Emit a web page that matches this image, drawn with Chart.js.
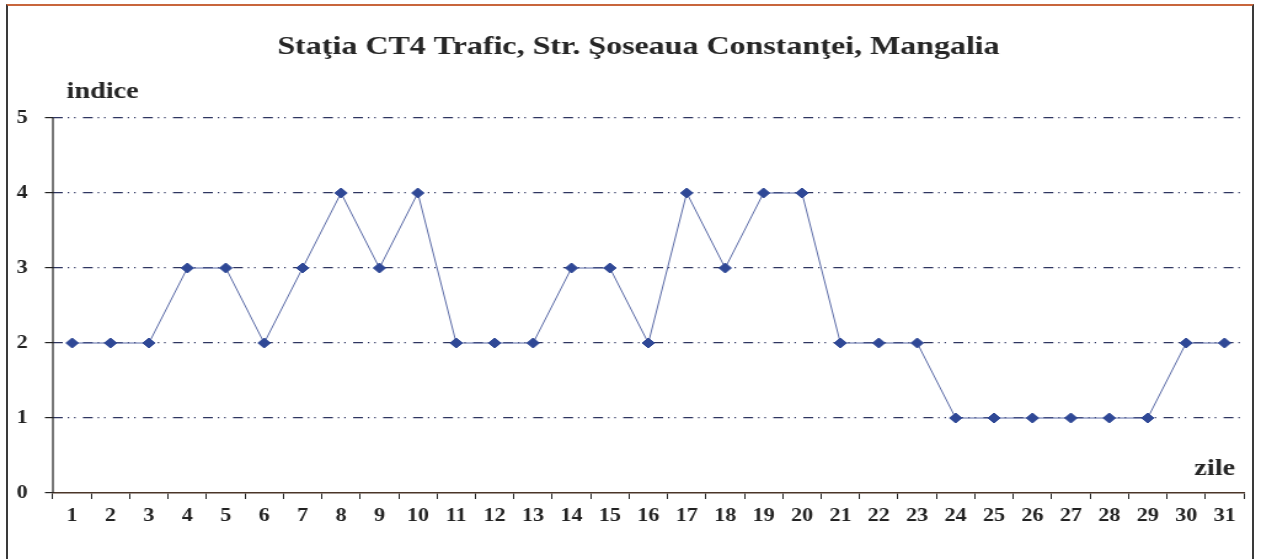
<!DOCTYPE html>
<html>
<head>
<meta charset="utf-8">
<script src="https://cdn.jsdelivr.net/npm/chart.js@4"></script>
<style>
  body { margin: 0; background: #fff; overflow: hidden; }
  #frame { position: absolute; left: 6px; top: 4px; width: 1244px; height: 600px;
           border: 2px solid #3a3a3a; border-top-color: #c8663c; }
  /* the scan is stretched sideways, so draw narrow and scale up */
  #wrap { position: absolute; left: 0; top: 0; width: 1025px; height: 559px;
          transform: scaleX(1.2302); transform-origin: 0 0; }
</style>
</head>
<body>
<div id="frame"></div>
<div id="wrap"><canvas id="ct4-chart" width="1025" height="559"></canvas></div>
<script>
// data
const zile = ['1','2','3','4','5','6','7','8','9','10','11','12','13','14','15','16',
  '17','18','19','20','21','22','23','24','25','26','27','28','29','30','31'];
const indice = [2, 2, 2, 3, 3, 2, 3, 4, 3, 4, 2, 2, 2, 3, 3, 2,
  4, 3, 4, 4, 2, 2, 2, 1, 1, 1, 1, 1, 1, 2, 2];
const titlu = 'Staţia CT4 Trafic, Str. Şoseaua Constanţei, Mangalia';
const yLabel = 'indice';
const xLabel = 'zile';

const serif = '"Liberation Serif", "DejaVu Serif", serif';

const textPlugin = {
  id: 'texts',
  afterDraw(chart) {
    const c = chart.ctx;
    const a = chart.chartArea;
    c.save();
    // solid y axis line (the grid dash would otherwise reach it)
    c.strokeStyle = '#1e1e1e';
    c.lineWidth = 1.2;
    c.beginPath();
    c.moveTo(a.left, a.top);
    c.lineTo(a.left, a.bottom);
    c.stroke();
    c.fillStyle = '#262626';
    c.textBaseline = 'alphabetic';
    c.font = 'bold 26px ' + serif;
    c.textAlign = 'center';
    c.fillText(titlu, 519, 54);
    c.font = 'bold 23px ' + serif;
    c.textAlign = 'left';
    c.fillText(yLabel, 54, 98);
    c.textAlign = 'right';
    c.fillText(xLabel, 1004, 475);
    c.restore();
  }
};

var ctx = document.getElementById('ct4-chart').getContext('2d');
const config = {
  type: 'line',
  data: {
    labels: zile,
    datasets: [{
      data: indice,
      borderColor: '#5a6aa6',
      borderWidth: 1,
      pointStyle: 'rectRot',
      pointRadius: 5,
      pointHoverRadius: 5,
      pointBackgroundColor: '#2f4896',
      pointBorderColor: '#2f4896',
      pointBorderWidth: 1,
      tension: 0
    }]
  },
  options: {
    responsive: false,
    animation: false,
    layout: { padding: { top: 118, right: 14, left: 0, bottom: 0 } },
    plugins: {
      legend: { display: false },
      title: { display: false },
      tooltip: { enabled: false }
    },
    scales: {
      x: {
        offset: true,
        afterFit(scale) { scale.height = 66; },
        grid: {
          offset: true,
          drawOnChartArea: false,
          drawTicks: true,
          tickLength: 6,
          tickColor: '#222'
        },
        border: { color: '#4a3528', width: 1.5 },
        ticks: {
          color: '#222',
          padding: 7,
          maxRotation: 0,
          autoSkip: false,
          font: { family: serif, size: 18, weight: 'bold' }
        }
      },
      y: {
        min: 0,
        max: 5,
        afterFit(scale) { scale.width = 43; },
        grid: {
          color: (c) => c.tick && c.tick.value === 0 ? 'rgba(0,0,0,0)' : '#2e3560',
          lineWidth: 1.2,
          tickLength: 6.5,
          tickColor: '#222',
          tickBorderDash: [],
          tickBorderDashOffset: 0
        },
        border: { display: false, dash: [8, 4, 1.2, 4, 1.2, 6] },
        ticks: {
          stepSize: 1,
          color: '#222',
          padding: 14,
          font: { family: serif, size: 18, weight: 'bold' }
        }
      }
    }
  },
  plugins: [textPlugin]
};
var myChart = new Chart(ctx, config);
</script>
</body>
</html>
